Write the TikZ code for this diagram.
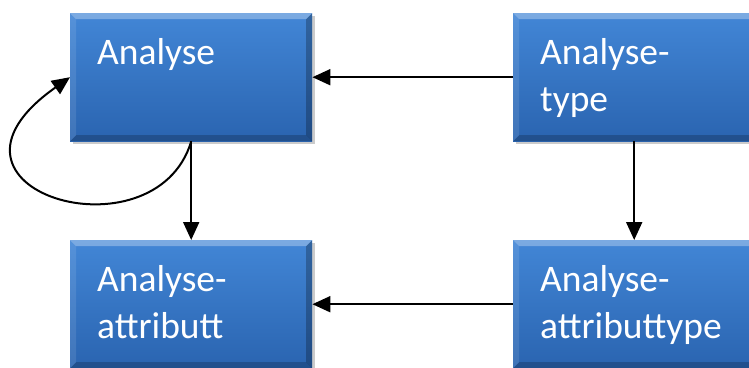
\documentclass[tikz,border=0pt]{standalone}
\usepackage{fontspec}
\setmainfont{Carlito}
\usetikzlibrary{arrows.meta,shadows}
\definecolor{boxtop}{RGB}{66,134,214}
\definecolor{boxbot}{RGB}{42,100,176}
\begin{document}
\begin{tikzpicture}[x=1pt,y=1pt,>={Triangle[length=18pt,width=16pt]},
  blok/.style={rectangle,anchor=north west,top color=boxtop,bottom color=boxbot,
    drop shadow={shadow xshift=3pt,shadow yshift=-3pt,fill=black!45,opacity=.45},
    text=white,font=\fontsize{37.5}{47}\selectfont,align=left,
    text width=188pt,inner xsep=27pt,inner ysep=0pt,text height=51pt,text depth=77pt,
    path picture={
      \fill[white,opacity=.3] (path picture bounding box.north west) -- (path picture bounding box.north east)
        -- ([shift={(-6pt,-6pt)}]path picture bounding box.north east) -- ([shift={(6pt,-6pt)}]path picture bounding box.north west) -- cycle;
      \fill[white,opacity=.1] (path picture bounding box.north west) -- ([shift={(6pt,-6pt)}]path picture bounding box.north west)
        -- ([shift={(6pt,6pt)}]path picture bounding box.south west) -- (path picture bounding box.south west) -- cycle;
      \fill[black,opacity=.25] (path picture bounding box.north east) -- (path picture bounding box.south east)
        -- ([shift={(-6pt,6pt)}]path picture bounding box.south east) -- ([shift={(-6pt,-6pt)}]path picture bounding box.north east) -- cycle;
      \fill[black,opacity=.2] (path picture bounding box.south west) -- (path picture bounding box.south east)
        -- ([shift={(-6pt,6pt)}]path picture bounding box.south east) -- ([shift={(6pt,6pt)}]path picture bounding box.south west) -- cycle;
    }},
  pijl/.style={->,line width=2pt,black}]
  \useasboundingbox (0,0) rectangle (749,-367);
  \node[blok] (ana) at (70,-13) {Analyse};
  \node[blok] (typ) at (513,-13) {Analyse-\\type};
  \node[blok] (att) at (70,-240) {Analyse-\\attributt};
  \node[blok] (atp) at (513,-240) {Analyse-\\attributtype};
  \draw[pijl] (typ) -- (ana);
  \draw[pijl] (ana) -- (att);
  \draw[pijl] (typ) -- (atp);
  \draw[pijl] (atp) -- (att);
  \draw[pijl] (ana.south) .. controls (155,-262) and (-90,-190) .. (ana.west);
\end{tikzpicture}
\end{document}
